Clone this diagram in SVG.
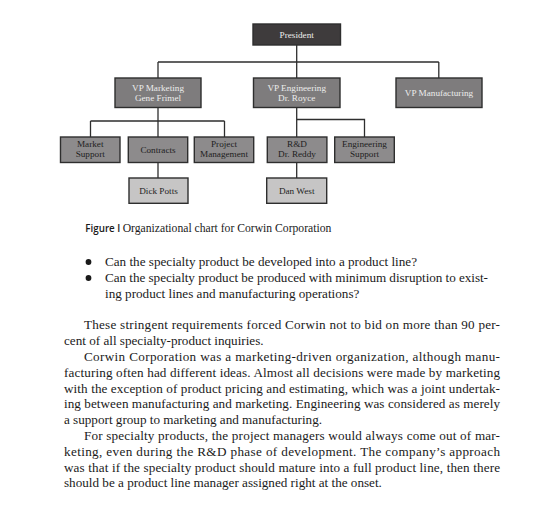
<svg xmlns="http://www.w3.org/2000/svg" width="556" height="510" viewBox="0 0 556 510">
<style>
.box{stroke:#2e2e2e;stroke-width:1.4}
.pres{fill:#3e3b3c}
.vp{fill:#7e7c7d}
.l2{fill:#8d8b8c}
.l3{fill:#c6c5c5}
.bt{font-family:"Liberation Serif","Times New Roman",serif;font-size:9.2px;text-anchor:middle}
.lt{fill:#ececec}
.dt{fill:#1e1e1e}
.c{stroke:#2e2e2e;stroke-width:1.3;fill:none}
.body{font-family:"Liberation Serif","Times New Roman",serif;font-size:13.15px;fill:#1a1a1a}
</style>
<rect width="556" height="510" fill="#ffffff"/>
<g id="connectors">
<path class="c" d="M296.7 45V62M158 62H438.8M158 62V78M296.7 62V78M438.8 62V78"/>
<path class="c" d="M158 107.5V137M90.5 121H224.5M90.5 121V137M224.5 121V137M158 162.5V178"/>
<path class="c" d="M296.7 107.5V137M296.7 119.5H364.5V137M296.7 162.5V178"/>
</g>
<g id="president"><rect class="box pres" x="253" y="24" width="87.5" height="21"/><text class="bt lt" x="296.7" y="38">President</text></g>
<g id="vp-marketing"><rect class="box vp" x="115" y="78" width="86" height="29.5"/><text class="bt lt" x="158" y="90.5">VP Marketing</text><text class="bt lt" x="158" y="100.7">Gene Frimel</text></g>
<g id="vp-engineering"><rect class="box vp" x="253.5" y="78" width="86.5" height="29.5"/><text class="bt lt" x="296.7" y="90.5">VP Engineering</text><text class="bt lt" x="296.7" y="100.7">Dr. Royce</text></g>
<g id="vp-manufacturing"><rect class="box vp" x="396" y="78" width="86" height="29.5"/><text class="bt lt" x="439" y="95.8">VP Manufacturing</text></g>
<g id="market-support"><rect class="box l2" x="60.5" y="137" width="59.5" height="25.5"/><text class="bt dt" x="90.2" y="147">Market</text><text class="bt dt" x="90.2" y="156.5">Support</text></g>
<g id="contracts"><rect class="box l2" x="128.3" y="137" width="59.4" height="25.5"/><text class="bt dt" x="158" y="153">Contracts</text></g>
<g id="project-management"><rect class="box l2" x="194.3" y="137" width="59.4" height="25.5"/><text class="bt dt" x="224" y="147">Project</text><text class="bt dt" x="224" y="156.5">Management</text></g>
<g id="rd"><rect class="box l2" x="267.3" y="137" width="59.6" height="25.5"/><text class="bt dt" x="297" y="147">R&amp;D</text><text class="bt dt" x="297" y="156.5">Dr. Reddy</text></g>
<g id="engineering-support"><rect class="box l2" x="334.7" y="137" width="59.6" height="25.5"/><text class="bt dt" x="364.5" y="147">Engineering</text><text class="bt dt" x="364.5" y="156.5">Support</text></g>
<g id="dick-potts"><rect class="box l3" x="129" y="178" width="59" height="25.3"/><text class="bt dt" x="158.5" y="193.5">Dick Potts</text></g>
<g id="dan-west"><rect class="box l3" x="266.7" y="178" width="60" height="25.3"/><text class="bt dt" x="296.7" y="193.5">Dan West</text></g>
<g id="caption">
<text x="85.3" y="231.7" font-family="'Open Sans','Noto Sans',sans-serif" font-weight="600" font-size="10.2px" fill="#1a1a1a" textLength="35" lengthAdjust="spacingAndGlyphs">Figure I</text>
<text x="122.7" y="231.7" font-family="'Liberation Serif','Times New Roman',serif" font-size="11.65px" fill="#1a1a1a">Organizational chart for Corwin Corporation</text>
</g>
<g id="bullets">
<circle cx="88.5" cy="262" r="2.9" fill="#1a1a1a"/>
<circle cx="88.5" cy="278" r="2.9" fill="#1a1a1a"/>
<text class="body" x="105" y="266.3">Can the specialty product be developed into a product line?</text>
<text class="body" x="105" y="282.1" textLength="383" lengthAdjust="spacing">Can the specialty product be produced with minimum disruption to exist-</text>
<text class="body" x="105" y="297.9">ing product lines and manufacturing operations?</text>
</g>
<g id="paragraphs">
<text class="body" x="84" y="329.3" textLength="416" lengthAdjust="spacing">These stringent requirements forced Corwin not to bid on more than 90 per-</text>
<text class="body" x="64" y="345.1">cent of all specialty-product inquiries.</text>
<text class="body" x="84" y="360.9" textLength="416" lengthAdjust="spacing">Corwin Corporation was a marketing-driven organization, although manu-</text>
<text class="body" x="64" y="376.7" textLength="436" lengthAdjust="spacing">facturing often had different ideas. Almost all decisions were made by marketing</text>
<text class="body" x="64" y="392.5" textLength="436" lengthAdjust="spacing">with the exception of product pricing and estimating, which was a joint undertak-</text>
<text class="body" x="64" y="408.3" textLength="436" lengthAdjust="spacing">ing between manufacturing and marketing. Engineering was considered as merely</text>
<text class="body" x="64" y="424.1">a support group to marketing and manufacturing.</text>
<text class="body" x="84" y="439.9" textLength="416" lengthAdjust="spacing">For specialty products, the project managers would always come out of mar-</text>
<text class="body" x="64" y="455.7" textLength="436" lengthAdjust="spacing">keting, even during the R&amp;D phase of development. The company’s approach</text>
<text class="body" x="64" y="471.5" textLength="436" lengthAdjust="spacing">was that if the specialty product should mature into a full product line, then there</text>
<text class="body" x="64" y="487.3">should be a product line manager assigned right at the onset.</text>
</g>
</svg>
